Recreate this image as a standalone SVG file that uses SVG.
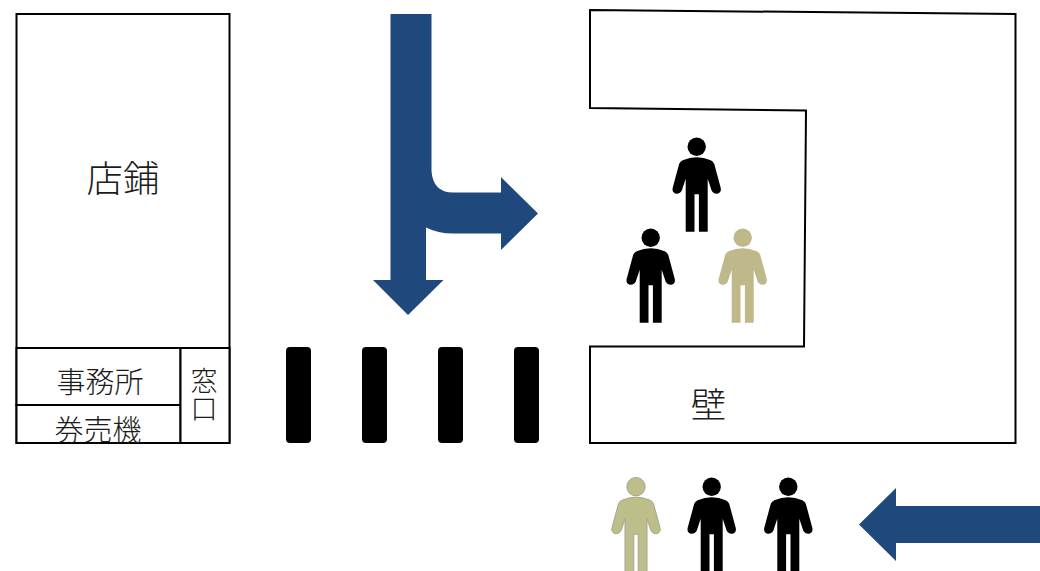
<svg xmlns="http://www.w3.org/2000/svg" width="1040" height="571" viewBox="0 0 1040 571">
<style>
.box{fill:#fff;stroke:#000;stroke-width:2}
.t{font-family:"Noto Sans CJK JP","Noto Sans CJK SC",sans-serif;font-weight:300;fill:#1a1a1a;text-anchor:middle;opacity:.99}
.v{writing-mode:vertical-rl;text-anchor:start;letter-spacing:1px}
.arrow{fill:#1f497d}
.bar{fill:#000}
.k{fill:#000}
.g{fill:#bfb88a}
.g2{fill:#bcbf8a;stroke:#a9a58c;stroke-width:1}
</style>
<defs>
<g id="person">
<circle cx="0" cy="0" r="9.200"/>
<path d="M-11 85V32L-15 44Q-17 47.500 -21 47Q-25 45.500 -24 41L-17.500 17Q-16.500 14.500 -14 13.500Q-7 10.500 0 10.500Q7 10.500 14 13.500Q16.500 14.500 17.500 17L24 41Q25 45.500 21 47Q17 47.500 15 44L11 32V85H2.200V47.500H-2.200V85Z"/>
</g>
</defs>
<g id="store">
<rect class="box" x="16.500" y="14" width="213" height="429"/>
<text class="t" x="123" y="192" font-size="36.500">店鋪</text>
</g>
<g id="office">
<rect class="box" x="16.500" y="348" width="164" height="57"/>
<text class="t" x="100" y="393" font-size="29">事務所</text>
</g>
<g id="ticket">
<rect class="box" x="16.500" y="405" width="164" height="38"/>
<text class="t" x="98" y="441" font-size="29">券売機</text>
</g>
<g id="window">
<rect class="box" x="180.500" y="348" width="49" height="95"/>
<text class="t v" x="204" y="367" font-size="27">窓口</text>
</g>
<g id="gates">
<rect class="bar" x="286" y="347" width="25" height="96" rx="4"/>
<rect class="bar" x="362" y="347" width="25" height="96" rx="4"/>
<rect class="bar" x="438" y="347" width="25" height="96" rx="4"/>
<rect class="bar" x="514" y="347" width="25" height="96" rx="4"/>
</g>
<g id="wall">
<path class="box" d="M590 10L1015.500 14V443H590V346.500H804L806 110.500L590 108Z"/>
<text class="t" x="708.500" y="418" font-size="35.500">壁</text>
</g>
<g id="connectors">
<path class="arrow" d="M390.500 14H431.500V171Q433 192.500 453 192.500H501V177L538 213.500L501 250V233.500H453Q438 233.500 426 227.500V280H443.500L408 315L373 280H390.500Z"/>
<path class="arrow" d="M859 524.500L896 488V506H1040V543H896V561Z"/>
</g>
<g id="person1" class="k"><use href="#person" x="696.700" y="146.700"/></g>
<g id="person2" class="k"><use href="#person" x="650.700" y="237.700"/></g>
<g id="person3" class="g"><use href="#person" x="742.700" y="237.700"/></g>
<g id="person4" class="g2"><use href="#person" x="636" y="486.700"/></g>
<g id="person5" class="k"><use href="#person" x="711.700" y="486.700"/></g>
<g id="person6" class="k"><use href="#person" x="788.300" y="486.700"/></g>
</svg>
